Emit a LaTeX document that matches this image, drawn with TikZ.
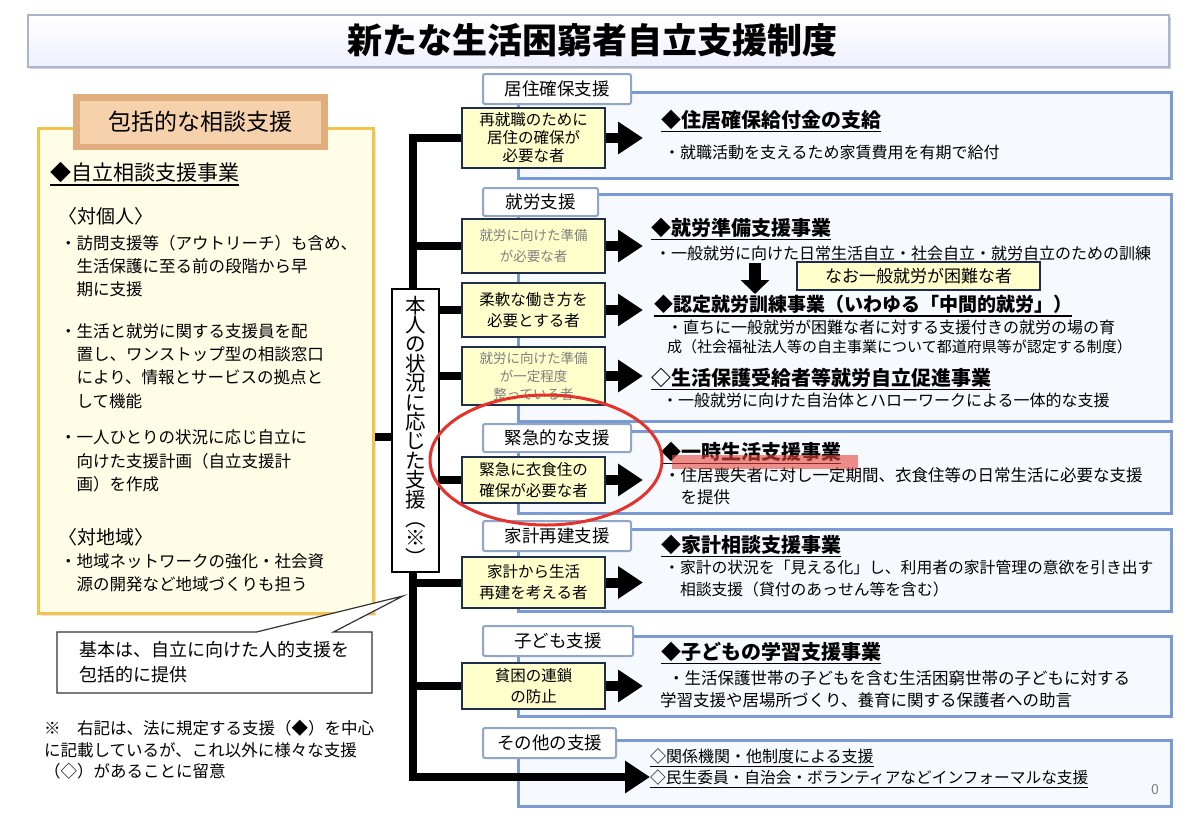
\documentclass[tikz,border=0pt]{standalone}
\usepackage{fontspec}
\setmainfont{Noto Sans CJK JP}
\usetikzlibrary{arrows.meta,shapes.callouts,shadows}
\definecolor{navy}{HTML}{1F2D4D}
\definecolor{pyellow}{HTML}{FFFFCC}
\definecolor{secblue}{HTML}{7A9AD4}
\definecolor{secfill}{HTML}{F6F9FD}
\definecolor{tabblue}{HTML}{8FA6C9}
\definecolor{gold}{HTML}{F2C44E}
\definecolor{cream}{HTML}{FFFDE6}
\definecolor{tandark}{HTML}{E0AE7E}
\definecolor{tanlight}{HTML}{F6D2AC}
\definecolor{hlred}{HTML}{E8453C}
\definecolor{ringred}{HTML}{E8312B}
\definecolor{bannerline}{HTML}{A9B6CA}
\definecolor{txtgray}{HTML}{7F7F7F}
\newcommand\fsz[2]{\fontsize{#1pt}{#2pt}\selectfont}
\newcommand\ulx[1]{\vtop{\hbox{#1}\kern1.2pt\hrule height1.3pt}}
\begin{document}
\begin{tikzpicture}[x=1pt,y=-1pt,
  banner/.style={draw=bannerline, line width=1.5pt, top color=white, bottom color=black!4!blue!6!white, drop shadow={opacity=0.35}},
  titletxt/.style={inner sep=0pt, font=\fsz{35}{38}\bfseries},
  ltxt/.style={anchor=west, inner sep=0pt, align=left},
  person/.style={draw=navy, line width=2.5pt, fill=pyellow, minimum width=143pt, inner sep=1pt, align=center, font=\fsz{15.5}{21}},
  gperson/.style={person, text=txtgray, font=\fsz{13.5}{21}},
  tab/.style={draw=tabblue, line width=2pt, fill=white, rounded corners=2pt, inner sep=0pt, font=\fsz{17.5}{20}, anchor=north west},
  sect/.style={draw=secblue, line width=3pt, fill=secfill, anchor=north west, minimum width=653pt, inner sep=0pt, drop shadow={opacity=0.25, shadow xshift=1.5pt, shadow yshift=-1.5pt}},
  conn/.style={line width=8pt, line join=miter},
  bigarrow/.style={line width=10pt, -{Triangle[length=25pt,width=31pt]}},
  rtxt/.style={anchor=west, inner sep=0pt, font=\fsz{16}{21}},
  rhead/.style={anchor=west, inner sep=0pt, font=\fsz{20}{24}\bfseries},
]
\useasboundingbox (0,0) rectangle (1200,835);
\fill[white] (0,0) rectangle (1200,835);

% ---- title ----
\node[banner, minimum width=1141pt, minimum height=52pt, anchor=north west] (banner) at (27,14) {};
\node[titletxt] (title) at (592,40.5) {新たな生活困窮者自立支援制度};

% ---- left box ----
\node[draw=gold, line width=3pt, fill=cream, minimum width=335pt, minimum height=485pt, anchor=north west, drop shadow={opacity=0.2}] (lbox) at (37,127) {};
\node[fill=tandark, minimum width=255pt, minimum height=56pt, inner sep=0pt] (lhead) at (200.5,122) {};
\node[fill=tanlight, minimum width=241pt, minimum height=43pt, inner sep=0pt, font=\fsz{23}{26}] (lheadtxt) at (200.5,122) {包括的な相談支援};
\node[ltxt, font=\fsz{21}{24}] (l1) at (50,174) {\ulx{◆自立相談支援事業}};
\node[ltxt, font=\fsz{19}{22}] (l2) at (58,216) {〈対個人〉};
\node[ltxt, font=\fsz{16.5}{23}] (l3) at (60,266) {・訪問支援等（アウトリーチ）も含め、\\\phantom{・}生活保護に至る前の段階から早\\\phantom{・}期に支援};
\node[ltxt, font=\fsz{16.5}{23.3}] (l4) at (60,366) {・生活と就労に関する支援員を配\\\phantom{・}置し、ワンストップ型の相談窓口\\\phantom{・}により、情報とサービスの拠点と\\\phantom{・}して機能};
\node[ltxt, font=\fsz{16.5}{23.3}] (l5) at (60,461) {・一人ひとりの状況に応じ自立に\\\phantom{・}向けた支援計画（自立支援計\\\phantom{・}画）を作成};
\node[ltxt, font=\fsz{19}{22}] (l6) at (58,537) {〈対地域〉};
\node[ltxt, font=\fsz{16.5}{23}] (l7) at (60,572.5) {・地域ネットワークの強化・社会資\\\phantom{・}源の開発など地域づくりも担う};

% ---- callout and note ----
\node[rectangle callout, draw=black!80, line width=1.2pt, fill=white, minimum width=315pt, minimum height=61pt, callout absolute pointer={(403,596)}, callout pointer width=77pt, align=left, font=\fsz{18}{25}] (callout) at (214.5,662.5) {基本は、自立に向けた人的支援を\\包括的に提供};
\node[ltxt, font=\fsz{16.5}{21.5}] (note) at (44,750) {※　右記は、法に規定する支援（◆）を中心\\に記載しているが、これ以外に様々な支援\\（◇）があることに留意};

% ---- section boxes ----
\node[sect, minimum height=86pt] (s1) at (517,91) {};
\node[sect, minimum height=227pt] (s2) at (517,193) {};
\node[sect, minimum height=82pt] (s3) at (517,430) {};
\node[sect, minimum height=82pt] (s4) at (517,528) {};
\node[sect, minimum height=80pt] (s5) at (517,635) {};
\node[sect, minimum height=66pt] (s6) at (517,739) {};

\node[tab, minimum width=148pt, minimum height=30pt] (t1) at (482,73) {居住確保支援};
\node[tab, minimum width=115pt, minimum height=28pt] (t2) at (482,187) {就労支援};
\node[tab, minimum width=148pt, minimum height=28pt] (t3) at (482,423) {緊急的な支援};
\node[tab, minimum width=148pt, minimum height=30pt] (t4) at (482,520) {家計再建支援};
\node[tab, minimum width=150pt, minimum height=30pt] (t5) at (482,625) {子ども支援};
\node[tab, minimum width=133pt, minimum height=30pt] (t6) at (482,727) {その他の支援};

% ---- person boxes ----
\node[person, minimum height=60pt, font=\fsz{15.5}{18}] (p1) at (533.5,138) {再就職のために\\居住の確保が\\必要な者};
\node[gperson, minimum height=54pt] (p2) at (533.5,246) {就労に向けた準備\\が必要な者};
\node[person, minimum height=54pt] (p3) at (533.5,310) {柔軟な働き方を\\必要とする者};
\node[gperson, minimum height=58pt, font=\fsz{13.5}{18}] (p4) at (533.5,376) {就労に向けた準備\\が一定程度\\整っている者};
\node[person, minimum height=46pt] (p5) at (533.5,480) {緊急に衣食住の\\確保が必要な者};
\node[person, minimum height=51pt] (p6) at (533.5,582.5) {家計から生活\\再建を考える者};
\node[person, minimum height=46pt] (p7) at (533.5,686) {貧困の連鎖\\の防止};

% ---- trunk ----
\coordinate (tbot) at (413,777);
\coordinate (s6in) at (650,777);
\coordinate (tipx) at (643,0);
\draw[conn, -{Triangle[length=25pt,width=31pt]}] (p1.west) -| (tbot) -- (s6in);

\node[draw=black, line width=1.5pt, fill=white, minimum width=47pt, minimum height=283pt, inner sep=0pt, align=center, font=\fsz{20.5}{19.4}] (cbox) at (415.5,430.5) {本\\人\\の\\状\\況\\に\\応\\じ\\た\\支\\援\\︵\\※\\︶};

\foreach \n in {p2,p6,p7} \draw[conn] (\n.west) -- (\n.west -| tbot);
\foreach \n in {p3,p4,p5} \draw[conn] (\n.west) -- (\n.west -| cbox.east);
\draw[conn] ([yshift=-6pt]cbox.west) -- ([yshift=-6pt]cbox.west -| lbox.east);
\foreach \n in {p1,p2,p3,p4,p5,p6,p7} \draw[bigarrow] (\n.east) -- (\n.east -| tipx);

% ---- right texts ----
\node[rhead] (h1) at (661,121) {\ulx{◆住居確保給付金の支給}};
\node[rtxt] (d1) at (664,152) {・就職活動を支えるため家賃費用を有期で給付};

\node[rhead] (h2) at (651,229) {\ulx{◆就労準備支援事業}};
\node[rtxt] (d2) at (655,253) {・一般就労に向けた日常生活自立・社会自立・就労自立のための訓練};
\coordinate (darrtop) at (755,263);
\coordinate (darrbot) at (755,294);
\draw[line width=12pt, -{Triangle[length=14pt,width=28pt]}] (darrtop) -- (darrbot);
\node[draw=navy, line width=2pt, fill=pyellow, minimum width=243pt, minimum height=28pt, inner sep=0pt, font=\fsz{17}{20}] (nao) at (918.5,276) {なお一般就労が困難な者};
\node[rhead, font=\fsz{19}{22}\bfseries] (h3) at (654,306) {\ulx{◆認定就労訓練事業（いわゆる「中間的就労」）}};
\node[rtxt] (d3a) at (667,327) {・直ちに一般就労が困難な者に対する支援付きの就労の場の育};
\node[rtxt, font=\fsz{15}{20}] (d3b) at (667,347) {成（社会福祉法人等の自主事業について都道府県等が認定する制度）};
\node[rhead] (h4) at (651,379) {\ulx{◇生活保護受給者等就労自立促進事業}};
\node[rtxt] (d4) at (662,400) {・一般就労に向けた自治体とハローワークによる一体的な支援};

\node[rhead] (h5) at (661,453) {\ulx{◆一時生活支援事業}};
\node[rtxt, align=left, font=\fsz{16.5}{22}] (d5) at (664,486) {・住居喪失者に対し一定期間、衣食住等の日常生活に必要な支援\\\phantom{・}を提供};

\node[rhead] (h6) at (661,546) {\ulx{◆家計相談支援事業}};
\node[rtxt, align=left, font=\fsz{15.8}{22}] (d6) at (664,579) {・家計の状況を「見える化」し、利用者の家計管理の意欲を引き出す\\\phantom{・}相談支援（貸付のあっせん等を含む）};

\node[rhead] (h7) at (661,653) {\ulx{◆子どもの学習支援事業}};
\node[rtxt, font=\fsz{16.5}{22}] (d7a) at (668,678) {・生活保護世帯の子どもを含む生活困窮世帯の子どもに対する};
\node[rtxt, font=\fsz{16.5}{22}] (d7b) at (660,700) {学習支援や居場所づくり、養育に関する保護者への助言};

\node[rtxt, font=\fsz{16}{21}] (o1) at (650,758) {\ulx{◇関係機関・他制度による支援}};
\node[rtxt, font=\fsz{15.7}{21}] (o2) at (650,779) {\ulx{◇民生委員・自治会・ボランティアなどインフォーマルな支援}};
\node[text=txtgray, inner sep=0pt, font=\fsz{14}{16}] (pg) at (1155,790) {0};

% ---- emphasis ----
\fill[hlred, opacity=0.6] (672,455) rectangle (858,469);
\draw[ringred, line width=3pt] (546,460) ellipse [x radius=116, y radius=65];
\end{tikzpicture}
\end{document}
